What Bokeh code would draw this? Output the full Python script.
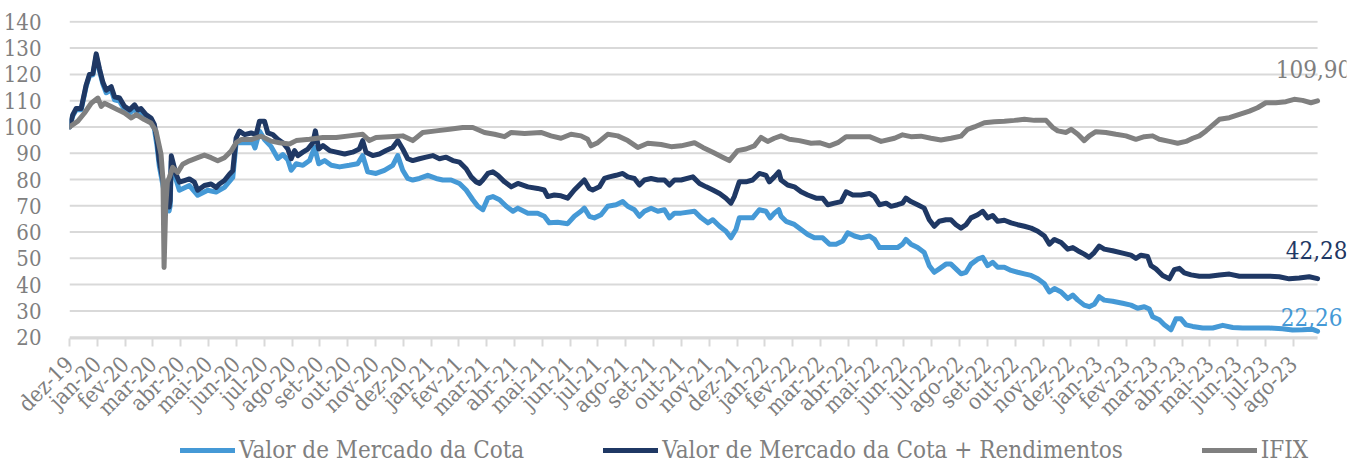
from bokeh.plotting import figure
from bokeh.models import (Range1d, FixedTicker, Legend, LegendItem, Label)
from bokeh.layouts import column
from bokeh.embed import file_html
from bokeh.resources import INLINE
import math

# ---- tick labels (months) ----
meses = ["dez-19", "jan-20", "fev-20", "mar-20", "abr-20", "mai-20", "jun-20", "jul-20",
         "ago-20", "set-20", "out-20", "nov-20", "dez-20", "jan-21", "fev-21", "mar-21",
         "abr-21", "mai-21", "jun-21", "jul-21", "ago-21", "set-21", "out-21", "nov-21",
         "dez-21", "jan-22", "fev-22", "mar-22", "abr-22", "mai-22", "jun-22", "jul-22",
         "ago-22", "set-22", "out-22", "nov-22", "dez-22", "jan-23", "fev-23", "mar-23",
         "abr-23", "mai-23", "jun-23", "jul-23", "ago-23"]
y_ticks = [20, 30, 40, 50, 60, 70, 80, 90, 100, 110, 120, 130, 140]
series_names = ["Valor de Mercado da Cota", "Valor de Mercado da Cota + Rendimentos", "IFIX"]

# ---- Valor de Mercado da Cota (position in months since dez-19, index value) ----
t_cota = [0.00, 0.12, 0.24, 0.42, 0.60, 0.72, 0.84, 0.96, 1.08, 1.20, 1.32, 1.50, 1.62, 1.80,
          1.98, 2.16, 2.34, 2.46, 2.57, 2.75, 2.93, 3.05, 3.15, 3.23, 3.32, 3.39, 3.50, 3.58,
          3.62, 3.66, 3.80, 3.95, 4.31, 4.61, 4.97, 5.27, 5.57, 5.87, 5.99, 6.29, 6.59, 6.67,
          6.83, 7.01, 7.25, 7.49, 7.67, 7.85, 7.97, 8.15, 8.39, 8.63, 8.81, 8.96, 9.17, 9.41,
          9.71, 10.06, 10.36, 10.54, 10.72, 11.02, 11.32, 11.62, 11.80, 11.98, 12.16, 12.34,
          12.58, 12.88, 13.18, 13.42, 13.72, 14.02, 14.26, 14.50, 14.68, 14.86, 15.04, 15.22,
          15.46, 15.70, 15.94, 16.12, 16.48, 16.83, 17.07, 17.25, 17.55, 17.91, 18.15, 18.39,
          18.51, 18.69, 18.87, 19.11, 19.35, 19.65, 19.89, 20.07, 20.31, 20.49, 20.67, 20.91,
          21.15, 21.39, 21.57, 21.75, 21.99, 22.47, 22.71, 22.95, 23.13, 23.37, 23.60, 23.78,
          23.96, 24.08, 24.32, 24.56, 24.80, 25.04, 25.19, 25.34, 25.50, 25.58, 25.76, 26.06,
          26.30, 26.54, 26.78, 27.08, 27.32, 27.56, 27.80, 27.98, 28.22, 28.46, 28.76, 28.94,
          29.12, 29.42, 29.77, 29.95, 30.07, 30.25, 30.49, 30.73, 30.91, 31.09, 31.27, 31.51,
          31.69, 31.87, 32.05, 32.23, 32.41, 32.65, 32.83, 33.01, 33.19, 33.37, 33.61, 33.85,
          34.09, 34.33, 34.57, 34.81, 35.05, 35.23, 35.41, 35.65, 35.89, 36.07, 36.25, 36.48,
          36.66, 36.84, 37.02, 37.20, 37.50, 37.86, 38.16, 38.40, 38.64, 38.82, 38.94, 39.18,
          39.36, 39.60, 39.78, 39.96, 40.14, 40.38, 40.74, 41.10, 41.46, 41.82, 42.18, 42.65,
          43.13, 43.61, 43.97, 44.33, 44.69, 44.87]
cota = [100, 104.3, 106.5, 106.5, 115.5, 119.5, 119.8, 127.0, 121.3, 116.3, 113.0, 114.2, 110.3,
        109.8, 106.6, 105.2, 107.0, 105.0, 105.5, 103.1, 101.8, 99.4, 92.5, 85.0, 80.0, 76.0,
        73.0, 68.0, 70.0, 87.0, 81.0, 75.9, 77.7, 74.0, 75.9, 75.2, 77.0, 80.8, 94.0, 94.0,
        94.0, 92.0, 98.4, 95.2, 92.5, 88.0, 89.5, 87.5, 83.5, 86.0, 85.4, 87.2, 92.2, 86.0,
        87.2, 85.4, 84.8, 85.4, 86.0, 89.1, 82.9, 82.3, 83.5, 85.4, 89.1, 83.5, 80.4, 79.8,
        80.4, 81.6, 80.4, 79.8, 79.8, 78.5, 76.0, 72.3, 69.8, 68.5, 72.9, 73.5, 72.3, 69.8,
        67.9, 69.1, 67.2, 67.2, 66.0, 63.5, 63.7, 63.2, 66.0, 67.9, 69.1, 66.0, 65.4, 66.6,
        69.8, 70.4, 71.6, 69.8, 68.5, 66.0, 67.9, 69.1, 67.9, 68.5, 65.4, 67.2, 67.2, 67.9,
        65.4, 63.5, 64.7, 62.2, 60.3, 57.8, 61.0, 65.4, 65.4, 65.4, 68.5, 67.9, 65.4, 67.2,
        68.5, 66.0, 64.1, 62.9, 61.0, 59.1, 57.8, 57.8, 55.4, 55.4, 56.6, 59.7, 58.5, 57.8,
        58.5, 57.2, 54.1, 54.1, 54.1, 55.4, 57.2, 55.4, 54.1, 52.2, 47.2, 44.7, 46.0, 47.8,
        47.8, 46.0, 44.1, 44.7, 47.8, 49.7, 50.4, 47.2, 48.5, 46.6, 46.6, 45.4, 44.7, 44.1,
        43.5, 42.2, 40.3, 37.2, 38.5, 37.2, 34.7, 36.0, 34.1, 32.2, 31.6, 32.5, 35.4, 34.1,
        33.7, 32.9, 32.2, 31.0, 31.6, 30.7, 27.8, 26.6, 24.7, 22.8, 27.0, 27.0, 24.7, 24.1,
        23.5, 23.5, 24.5, 23.7, 23.5, 23.5, 23.5, 23.2, 22.7, 22.8, 23.0, 22.26]

# ---- Valor de Mercado da Cota + Rendimentos ----
t_rend = [0.00, 0.12, 0.24, 0.42, 0.60, 0.72, 0.84, 0.96, 1.08, 1.20, 1.32, 1.50, 1.62, 1.80,
          1.98, 2.16, 2.34, 2.46, 2.57, 2.75, 2.93, 3.05, 3.15, 3.23, 3.32, 3.39, 3.50, 3.58,
          3.62, 3.66, 3.83, 3.95, 4.13, 4.31, 4.49, 4.61, 4.85, 5.09, 5.27, 5.39, 5.57, 5.75,
          5.87, 5.99, 6.11, 6.29, 6.53, 6.71, 6.83, 7.01, 7.13, 7.31, 7.49, 7.67, 7.85, 7.97,
          8.09, 8.21, 8.39, 8.57, 8.75, 8.84, 8.96, 9.11, 9.35, 9.59, 9.89, 10.18, 10.42, 10.54,
          10.66, 10.90, 11.14, 11.38, 11.62, 11.80, 11.98, 12.16, 12.34, 12.58, 12.82, 13.06,
          13.30, 13.54, 13.78, 14.02, 14.26, 14.44, 14.62, 14.74, 14.86, 15.04, 15.22, 15.40,
          15.64, 15.88, 16.12, 16.48, 16.83, 17.07, 17.19, 17.43, 17.67, 17.91, 18.15, 18.33,
          18.51, 18.69, 18.81, 19.05, 19.23, 19.41, 19.65, 19.89, 20.07, 20.31, 20.49, 20.67,
          20.91, 21.15, 21.39, 21.57, 21.75, 21.99, 22.41, 22.65, 22.89, 23.13, 23.37, 23.60,
          23.78, 23.90, 24.08, 24.32, 24.56, 24.80, 25.04, 25.16, 25.34, 25.50, 25.58, 25.82,
          26.06, 26.30, 26.54, 26.84, 27.08, 27.26, 27.50, 27.74, 27.92, 28.16, 28.46, 28.76,
          28.94, 29.12, 29.36, 29.54, 29.77, 29.95, 30.07, 30.25, 30.49, 30.73, 30.91, 31.09,
          31.27, 31.51, 31.69, 31.87, 32.05, 32.23, 32.41, 32.65, 32.83, 33.01, 33.19, 33.37,
          33.61, 33.85, 34.09, 34.33, 34.57, 34.81, 35.05, 35.23, 35.41, 35.65, 35.89, 36.07,
          36.25, 36.48, 36.66, 36.84, 37.02, 37.20, 37.50, 37.86, 38.16, 38.34, 38.52, 38.76,
          38.88, 39.06, 39.30, 39.54, 39.72, 39.90, 40.08, 40.32, 40.62, 40.98, 41.34, 41.70,
          42.06, 42.42, 42.77, 43.13, 43.49, 43.85, 44.21, 44.57, 44.87]
rend = [100, 104.7, 107.0, 107.0, 116.0, 120.0, 120.3, 127.8, 122.0, 117.0, 114.0, 115.3, 111.5,
        111.0, 107.8, 106.5, 108.4, 106.5, 107.0, 104.7, 103.4, 101.0, 94.6, 87.0, 82.0, 78.0,
        75.0, 69.5, 72.0, 89.0, 82.0, 79.0, 79.6, 80.2, 79.0, 75.9, 77.7, 78.3, 77.0, 78.3,
        79.6, 82.0, 83.3, 95.8, 98.4, 97.1, 97.7, 97.1, 102.2, 102.2, 97.7, 97.1, 95.3, 94.0,
        91.6, 87.9, 91.0, 89.1, 90.4, 91.6, 94.0, 98.5, 91.6, 92.9, 91.0, 90.4, 89.7, 90.4,
        91.6, 94.8, 90.4, 89.1, 89.7, 91.0, 92.2, 94.8, 91.6, 87.9, 87.2, 87.9, 88.5, 89.1,
        87.9, 88.5, 87.2, 86.6, 84.1, 81.0, 79.1, 78.5, 79.8, 82.3, 82.9, 81.6, 79.1, 77.2,
        78.5, 77.2, 76.6, 76.0, 73.5, 74.1, 73.8, 72.9, 76.0, 77.9, 79.8, 76.6, 76.0, 77.2,
        80.4, 81.0, 81.6, 82.3, 81.0, 80.4, 77.9, 79.8, 80.4, 79.8, 79.8, 77.9, 79.8, 79.8,
        81.0, 78.5, 77.2, 76.0, 74.7, 72.9, 71.0, 73.5, 79.1, 79.1, 79.8, 82.3, 81.6, 79.1,
        81.0, 82.9, 79.8, 77.9, 77.2, 75.3, 74.1, 72.9, 72.9, 70.4, 71.0, 71.6, 75.3, 74.1,
        74.1, 74.7, 73.5, 70.4, 71.0, 69.8, 70.4, 71.0, 72.9, 71.6, 70.4, 69.1, 64.7, 62.2,
        64.1, 64.7, 64.7, 62.8, 61.5, 62.8, 65.4, 66.6, 67.9, 65.4, 66.3, 64.1, 64.5, 63.5,
        62.8, 62.2, 61.5, 60.3, 58.5, 55.4, 57.2, 56.0, 53.5, 54.1, 52.9, 51.6, 50.4, 52.2,
        54.7, 53.5, 52.9, 52.0, 51.2, 50.0, 51.2, 50.7, 47.2, 46.0, 43.5, 42.2, 45.7, 46.2,
        44.5, 43.7, 43.2, 43.2, 43.7, 44.0, 43.2, 43.2, 43.2, 43.2, 43.0, 42.2, 42.5, 43.0,
        42.28]

# ---- IFIX ----
t_ifix = [0.00, 0.30, 0.54, 0.78, 1.02, 1.14, 1.26, 1.50, 1.74, 1.98, 2.22, 2.40, 2.69, 2.93,
          3.11, 3.29, 3.36, 3.40, 3.46, 3.52, 3.59, 3.71, 3.89, 4.07, 4.31, 4.61, 4.85, 5.09,
          5.33, 5.57, 5.81, 5.99, 6.17, 6.53, 6.89, 7.25, 7.55, 7.91, 8.15, 8.63, 9.11, 9.59,
          10.06, 10.54, 10.78, 11.02, 11.50, 11.98, 12.34, 12.70, 13.18, 13.66, 14.14, 14.50,
          14.92, 15.28, 15.64, 15.88, 16.36, 16.95, 17.31, 17.67, 18.03, 18.39, 18.63, 18.75,
          18.99, 19.35, 19.71, 20.07, 20.43, 20.79, 21.27, 21.63, 21.99, 22.47, 22.77, 23.13,
          23.48, 23.72, 24.02, 24.32, 24.62, 24.86, 25.10, 25.34, 25.58, 25.88, 26.24, 26.66,
          26.96, 27.32, 27.62, 27.92, 28.28, 28.76, 29.18, 29.66, 29.95, 30.25, 30.61, 30.97,
          31.33, 31.69, 32.05, 32.29, 32.53, 32.89, 33.25, 33.61, 33.97, 34.33, 34.69, 35.11,
          35.35, 35.53, 35.83, 36.01, 36.25, 36.48, 36.66, 36.90, 37.26, 37.62, 37.98, 38.34,
          38.64, 38.94, 39.18, 39.54, 39.84, 40.14, 40.38, 40.62, 40.86, 41.10, 41.34, 41.70,
          42.06, 42.42, 42.71, 43.01, 43.37, 43.73, 44.03, 44.33, 44.63, 44.87]
ifix = [100, 102.2, 105.3, 109.0, 111.0, 107.8, 109.0, 107.8, 106.5, 105.3, 103.4, 104.7, 102.8,
        101.5, 98.4, 89.7, 80.0, 46.5, 70.0, 79.0, 80.8, 84.6, 82.7, 85.8, 87.1, 88.3, 89.3,
        88.3, 87.1, 88.3, 90.8, 94.0, 95.2, 95.2, 96.5, 94.6, 94.0, 93.5, 94.8, 95.3, 96.0,
        96.0, 96.6, 97.2, 94.8, 96.0, 96.3, 96.6, 94.8, 97.9, 98.5, 99.1, 99.8, 99.8, 97.9,
        97.2, 96.3, 97.9, 97.5, 97.9, 96.6, 95.7, 97.2, 96.6, 95.3, 92.8, 94.0, 97.2, 96.6,
        94.8, 92.2, 93.8, 93.3, 92.5, 92.8, 94.0, 92.2, 90.4, 88.5, 87.2, 91.0, 91.6, 92.8,
        96.0, 94.5, 95.7, 96.6, 95.3, 94.8, 93.8, 94.0, 92.8, 94.0, 96.3, 96.3, 96.3, 94.5,
        95.7, 97.0, 96.3, 96.5, 95.7, 95.0, 95.7, 96.5, 99.1, 100.0, 101.6, 102.0, 102.2,
        102.5, 102.9, 102.5, 102.5, 99.8, 98.5, 97.9, 99.1, 97.2, 94.8, 96.6, 98.2, 97.9,
        97.2, 96.6, 95.3, 96.3, 96.6, 95.3, 94.5, 93.8, 94.5, 95.7, 96.6, 98.5, 100.7, 102.9,
        103.5, 104.8, 106.0, 107.3, 109.2, 109.2, 109.6, 110.5, 110.1, 109.2, 109.90]

C_COTA = "#4599D6"
C_REND = "#1F3864"
C_IFIX = "#808080"
TXT = "#7F7F7F"
GRID = "#D9D9D9"
FONT = "DejaVu Serif Condensed"
colors = [C_COTA, C_REND, C_IFIX]
series = [(t_cota, cota), (t_rend, rend), (t_ifix, ifix)]

t_end = t_cota[-1]
p = figure(frame_width=1277, frame_height=318,
           output_backend="svg", toolbar_location=None,
           x_range=Range1d(0, 45.91), y_range=Range1d(19.5, 140.5),
           min_border_left=62, min_border_right=6, min_border_top=20, min_border_bottom=0)
p.outline_line_color = None
p.background_fill_color = "white"

# horizontal gridlines limited to the data span
p.segment(x0=[0] * len(y_ticks), x1=[t_end] * len(y_ticks), y0=y_ticks, y1=y_ticks,
          line_color=GRID, line_width=2)

for (xs, ys), c in zip(series, colors):
    p.line(xs, ys, line_color=c, line_width=5, line_join="round", line_cap="round")

# axes
p.xgrid.grid_line_color = None
p.ygrid.grid_line_color = None
p.yaxis.ticker = FixedTicker(ticks=y_ticks)
p.yaxis.axis_line_color = None
p.yaxis.major_tick_line_color = None
p.yaxis.minor_tick_line_color = None
p.yaxis.major_label_text_font = FONT
p.yaxis.major_label_text_font_size = "22px"
p.yaxis.major_label_text_color = TXT
p.yaxis.major_label_standoff = 22

p.xaxis.ticker = FixedTicker(ticks=list(range(len(meses))))
p.xaxis.major_label_overrides = {i: m for i, m in enumerate(meses)}
p.xaxis.major_label_orientation = math.pi / 4
p.xaxis.bounds = (0, t_end)
p.xaxis.axis_line_color = GRID
p.xaxis.axis_line_width = 2
p.xaxis.major_tick_line_color = GRID
p.xaxis.major_tick_line_width = 2
p.xaxis.major_tick_out = 8
p.xaxis.major_tick_in = 0
p.xaxis.minor_tick_line_color = None
p.xaxis.major_label_text_font = FONT
p.xaxis.major_label_text_font_size = "22px"
p.xaxis.major_label_text_color = TXT
p.xaxis.major_label_standoff = 14

# end labels
def fmt(v):
    return f"{v:.2f}".replace(".", ",")

for (xs, ys), col, yoff, xoff in zip(series, [C_COTA, C_REND, TXT],
                                     [5, 20, 23], [-6, -1, -4]):
    p.add_layout(Label(x=xs[-1], y=ys[-1], text=fmt(ys[-1]), x_offset=xoff, y_offset=yoff,
                       text_align="center", text_baseline="bottom", text_color=col,
                       text_font=FONT, text_font_size="24px"))

# legend strip: the same series drawn (out of view) only to provide legend swatches
lg = figure(width=1345, height=34, output_backend="svg", toolbar_location=None,
            x_range=Range1d(0, 1), y_range=Range1d(0, 1), min_border=0)
lg.axis.visible = False
lg.grid.visible = False
lg.outline_line_color = None
sw = [lg.line(xs, ys, line_color=c, line_width=5, line_cap="round")
      for (xs, ys), c in zip(series, colors)]
legend = Legend(items=[LegendItem(label=n, renderers=[r]) for n, r in zip(series_names, sw)],
                orientation="horizontal", location=(111, 2),
                label_text_font=FONT, label_text_font_size="24px", label_text_color=TXT,
                glyph_width=55, glyph_height=20, label_standoff=4, spacing=79,
                border_line_color=None, background_fill_alpha=0, padding=0, margin=0)
lg.add_layout(legend, "center")

layout = column(p, lg, spacing=0)
open("out.html", "w").write(file_html(layout, INLINE))
